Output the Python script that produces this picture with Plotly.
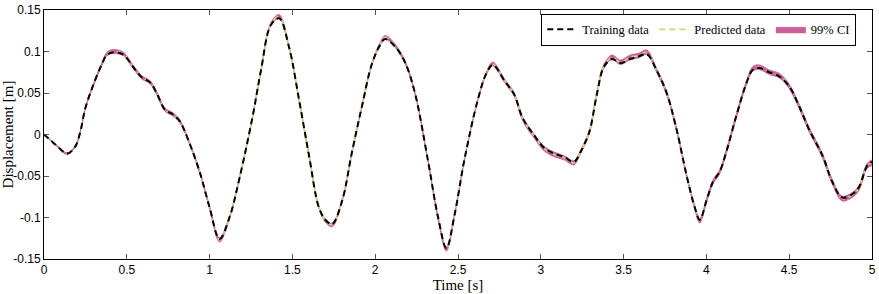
import plotly.graph_objects as go

# Time samples [s]
time_s = [0.00, 0.04, 0.08, 0.14, 0.19, 0.22, 0.25, 0.30, 0.35, 0.38, 0.42, 0.48, 0.54, 0.59, 0.64, 0.68, 0.73,
          0.78, 0.82, 0.87, 0.94, 1.00, 1.06, 1.12, 1.18, 1.26, 1.31, 1.37, 1.42, 1.48, 1.54, 1.60, 1.66,
          1.70, 1.74, 1.80, 1.86, 1.92, 1.98, 2.03, 2.06, 2.12, 2.18, 2.24, 2.32, 2.38, 2.43, 2.48, 2.54,
          2.62, 2.67, 2.71, 2.78, 2.84, 2.89, 2.96, 3.02, 3.08, 3.14, 3.20, 3.24, 3.28, 3.30, 3.34, 3.38,
          3.43, 3.48, 3.54, 3.59, 3.64, 3.70, 3.76, 3.82, 3.88, 3.93, 3.96, 4.00, 4.04, 4.08, 4.12, 4.18,
          4.24, 4.28, 4.32, 4.38, 4.44, 4.50, 4.56, 4.62, 4.70, 4.76, 4.82, 4.88, 4.92, 4.97, 5.00]

# Training displacement [m]
training = [0.000, -0.007, -0.014, -0.023, -0.014, 0.004, 0.032, 0.061, 0.085, 0.096, 0.099, 0.096, 0.081, 0.069, 0.063, 0.050, 0.030,
            0.024, 0.016, -0.006, -0.045, -0.088, -0.126, -0.100, -0.053, 0.022, 0.077, 0.132, 0.140, 0.105, 0.042, -0.025, -0.088,
            -0.103, -0.108, -0.080, -0.021, 0.034, 0.085, 0.108, 0.115, 0.106, 0.087, 0.050, -0.033, -0.100, -0.137, -0.096, -0.029,
            0.042, 0.073, 0.084, 0.065, 0.048, 0.020, -0.001, -0.016, -0.023, -0.027, -0.033, -0.021, -0.004, 0.008, 0.050, 0.081,
            0.091, 0.086, 0.091, 0.094, 0.097, 0.077, 0.050, 0.006, -0.049, -0.088, -0.103, -0.080, -0.057, -0.045, -0.021, 0.022,
            0.061, 0.078, 0.080, 0.075, 0.070, 0.058, 0.034, 0.006, -0.025, -0.057, -0.076, -0.072, -0.064, -0.038, -0.033]

# Predicted displacement [m]
predicted = [0.000, -0.007, -0.014, -0.023, -0.014, 0.004, 0.032, 0.061, 0.085, 0.097, 0.100, 0.097, 0.081, 0.069, 0.063, 0.050, 0.030,
             0.024, 0.016, -0.006, -0.045, -0.088, -0.127, -0.100, -0.053, 0.022, 0.077, 0.133, 0.142, 0.105, 0.042, -0.025, -0.088,
             -0.104, -0.109, -0.080, -0.021, 0.034, 0.085, 0.109, 0.117, 0.107, 0.087, 0.050, -0.033, -0.101, -0.138, -0.096, -0.029,
             0.042, 0.073, 0.085, 0.065, 0.048, 0.019, -0.002, -0.017, -0.024, -0.028, -0.034, -0.021, -0.004, 0.008, 0.050, 0.082,
             0.093, 0.087, 0.093, 0.095, 0.099, 0.077, 0.050, 0.006, -0.049, -0.088, -0.104, -0.080, -0.057, -0.045, -0.021, 0.022,
             0.061, 0.079, 0.081, 0.075, 0.071, 0.058, 0.034, 0.006, -0.025, -0.057, -0.077, -0.073, -0.065, -0.038, -0.034]

# 99% CI half-width [m]
ci_half = [0.0003, 0.0005, 0.0008, 0.0010, 0.0010, 0.0010, 0.0012, 0.0015, 0.0018, 0.0022, 0.0025, 0.0022, 0.0020, 0.0020, 0.0020, 0.0020, 0.0020,
           0.0020, 0.0020, 0.0015, 0.0015, 0.0018, 0.0025, 0.0018, 0.0012, 0.0012, 0.0015, 0.0020, 0.0025, 0.0015, 0.0012, 0.0012, 0.0015,
           0.0020, 0.0022, 0.0015, 0.0012, 0.0012, 0.0015, 0.0020, 0.0022, 0.0020, 0.0018, 0.0012, 0.0012, 0.0018, 0.0025, 0.0018, 0.0012,
           0.0012, 0.0018, 0.0022, 0.0022, 0.0022, 0.0025, 0.0025, 0.0028, 0.0028, 0.0025, 0.0025, 0.0022, 0.0022, 0.0022, 0.0022, 0.0025,
           0.0028, 0.0028, 0.0028, 0.0028, 0.0028, 0.0025, 0.0025, 0.0022, 0.0022, 0.0025, 0.0028, 0.0025, 0.0025, 0.0025, 0.0025, 0.0025,
           0.0025, 0.0028, 0.0028, 0.0028, 0.0028, 0.0028, 0.0028, 0.0028, 0.0028, 0.0028, 0.0030, 0.0030, 0.0030, 0.0030, 0.0030]

x_ticks = [0, 0.5, 1, 1.5, 2, 2.5, 3, 3.5, 4, 4.5, 5]
x_labels = ["0", "0.5", "1", "1.5", "2", "2.5", "3", "3.5", "4", "4.5", "5"]
y_ticks = [-0.15, -0.1, -0.05, 0, 0.05, 0.1, 0.15]
y_labels = ["-0.15", "-0.1", "-0.05", "0", "0.05", "0.1", "0.15"]

upper = [p + h for p, h in zip(predicted, ci_half)]
lower = [p - h for p, h in zip(predicted, ci_half)]

band_color = "#c95f99"

fig = go.Figure()
fig.add_trace(go.Scatter(
    x=time_s + time_s[::-1], y=upper + lower[::-1],
    fill="toself", fillcolor=band_color, mode="lines",
    line=dict(color=band_color, width=0.8, shape="spline"),
    name="99% CI", hoverinfo="skip", legendrank=3))
fig.add_trace(go.Scatter(
    x=time_s, y=predicted, mode="lines", name="Predicted data",
    line=dict(color="#c8d67e", width=1.6, dash="6px,4px", shape="spline"), legendrank=2))
fig.add_trace(go.Scatter(
    x=time_s, y=training, mode="lines", name="Training data",
    line=dict(color="black", width=2, dash="6px,4px", shape="spline"), legendrank=1))

serif = "Liberation Serif, Times New Roman, serif"
sans = "Liberation Sans, Arial, sans-serif"

fig.update_layout(
    width=879, height=294,
    margin=dict(l=43, r=3, t=5, b=35),
    plot_bgcolor="white", paper_bgcolor="white",
    showlegend=True,
    legend=dict(
        orientation="h", x=0.981, xanchor="right", y=0.985, yanchor="top",
        bgcolor="white", bordercolor="black", borderwidth=1,
        font=dict(family=serif, size=12.5, color="black"),
        itemwidth=30, tracegroupgap=0,
    ),
    font=dict(family=sans, size=12, color="black"),
)
fig.update_xaxes(
    range=[0, 5], tickvals=x_ticks, ticktext=x_labels,
    showline=True, linecolor="black", linewidth=1, mirror="ticks",
    ticks="inside", ticklen=5, tickcolor="#555555", showgrid=False, zeroline=False,
    title=dict(text="Time [s]", font=dict(family=serif, size=15), standoff=2),
    tickfont=dict(family=sans, size=12), ticklabeloverflow="allow",
)
fig.update_yaxes(
    range=[-0.15, 0.15], tickvals=y_ticks, ticktext=y_labels,
    showline=True, linecolor="black", linewidth=1, mirror="ticks",
    ticks="inside", ticklen=5, tickcolor="#555555", showgrid=False, zeroline=False,
    title=dict(text="Displacement [m]", font=dict(family=serif, size=15), standoff=0),
    tickfont=dict(family=sans, size=12), ticklabeloverflow="allow",
)

fig.write_html("out.html")
